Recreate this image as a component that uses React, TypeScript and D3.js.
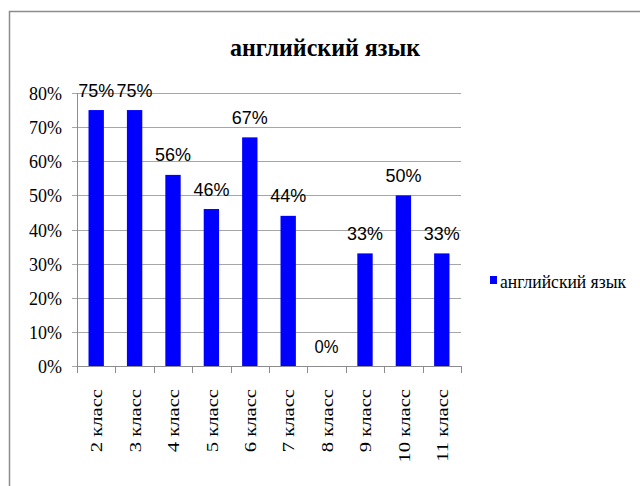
import React from "react";
import * as d3 from "d3";

const categories = ["2 класс", "3 класс", "4 класс", "5 класс", "6 класс", "7 класс", "8 класс", "9 класс", "10 класс", "11 класс"];
const values = [0.75, 0.75, 0.56, 0.46, 0.67, 0.44, 0.0, 0.33, 0.5, 0.33];
const yTicks = [0, 0.1, 0.2, 0.3, 0.4, 0.5, 0.6, 0.7, 0.8];
const title = "английский язык";
const seriesName = "английский язык";

const W = 640;
const H = 486;
const plot = { left: 77, right: 461, top: 93, bottom: 366 };
const serif = '"Liberation Serif", "Times New Roman", serif';
const sans = '"Liberation Sans", Arial, sans-serif';

export default function App() {
  const x = d3
    .scaleBand<string>()
    .domain(categories)
    .range([plot.left, plot.right])
    .paddingInner(0.6)
    .paddingOuter(0.3);
  const y = d3.scaleLinear().domain([0, 0.8]).range([plot.bottom, plot.top]);
  const step = x.step();
  const boundaries = d3.range(categories.length + 1).map((i) => plot.left + i * step);
  const pct = d3.format(".0%");
  const serifStyle = { fontFamily: serif };
  const sansStyle = { fontFamily: sans };

  return (
    <svg
      width={W}
      height={H}
      style={{ position: "fixed", left: 0, top: 0, background: "#fff" }}
    >
      <rect x={0} y={0} width={W} height={H} fill="#fff" />
      <rect x={9.5} y={11.5} width={W + 20} height={H + 20} fill="none" stroke="#8c8c8c" strokeWidth={1.5} />
      <text
        x={325}
        y={56}
        textAnchor="middle"
        style={serifStyle}
        fontWeight="bold"
        fontSize={26}
        textLength={190}
        lengthAdjust="spacingAndGlyphs"
        fill="#000"
      >
        {title}
      </text>
      {yTicks.map((t) => (
        <line
          key={"g" + t}
          x1={plot.left - 5}
          x2={plot.right}
          y1={Math.round(y(t)) + 0.5}
          y2={Math.round(y(t)) + 0.5}
          stroke="#a6a6a6"
          strokeWidth={1}
        />
      ))}
      <line x1={plot.left + 0.5} x2={plot.left + 0.5} y1={plot.top} y2={plot.bottom} stroke="#8c8c8c" />
      {boundaries.map((bx, i) => (
        <line
          key={"xt" + i}
          x1={Math.round(bx) + 0.5}
          x2={Math.round(bx) + 0.5}
          y1={plot.bottom}
          y2={plot.bottom + 7}
          stroke="#8c8c8c"
        />
      ))}
      <line x1={plot.left} x2={plot.right} y1={plot.bottom + 0.5} y2={plot.bottom + 0.5} stroke="#8c8c8c" />
      {yTicks.map((t) => (
        <text
          key={"yl" + t}
          x={62}
          y={y(t) + 7}
          textAnchor="end"
          style={serifStyle}
          fontSize={18}
          fill="#000"
        >
          {pct(t)}
        </text>
      ))}
      {categories.map((c, i) => (
        <rect
          key={"b" + c}
          x={x(c)!}
          y={y(values[i])}
          width={x.bandwidth()}
          height={plot.bottom - y(values[i])}
          fill="#0000ff"
        />
      ))}
      {categories.map((c, i) => (
        <text
          key={"v" + c}
          x={x(c)! + x.bandwidth() / 2}
          y={y(values[i]) - 13.5}
          textAnchor="middle"
          style={sansStyle}
          fontSize={19}
          textLength={values[i] === 0 ? 24 : 36}
          lengthAdjust="spacingAndGlyphs"
          fill="#000"
        >
          {pct(values[i])}
        </text>
      ))}
      {categories.map((c) => {
        const cx = x(c)! + x.bandwidth() / 2;
        return (
          <text
            key={"xl" + c}
            transform={`translate(${cx},389) rotate(-90) scale(1.25,1)`}
            textAnchor="end"
            dy="0.38em"
            style={serifStyle}
            fontSize={16.5}
            fill="#000"
          >
            {c}
          </text>
        );
      })}
      <rect x={490} y={276} width={7} height={8} fill="#0000ff" />
      <text
        x={500}
        y={288}
        style={serifStyle}
        fontSize={19}
        textLength={126}
        lengthAdjust="spacingAndGlyphs"
        fill="#000"
      >
        {seriesName}
      </text>
    </svg>
  );
}
